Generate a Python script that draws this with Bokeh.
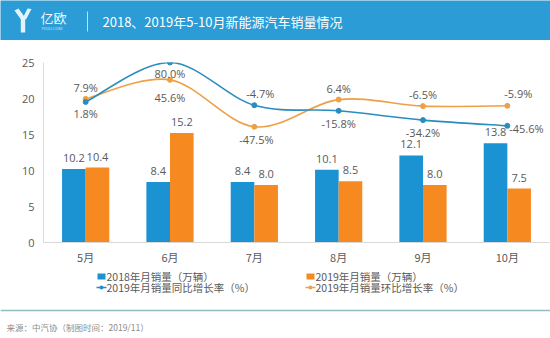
from bokeh.plotting import figure
from bokeh.layouts import column
from bokeh.models import Range1d, FixedTicker, ColumnDataSource
from bokeh.core.properties import value
from bokeh.embed import file_html
from bokeh.resources import INLINE

# ---------------- data ----------------
months = ["5月", "6月", "7月", "8月", "9月", "10月"]
sales_2018 = [10.2, 8.4, 8.4, 10.1, 12.1, 13.8]      # 万辆
sales_2019 = [10.4, 15.2, 8.0, 8.5, 8.0, 7.5]        # 万辆
yoy_2019 = [1.8, 80.0, -4.7, -15.8, -34.2, -45.6]    # 同比 %
mom_2019 = [7.9, 45.6, -47.5, 6.4, -6.5, -5.9]       # 环比 %
y_ticks = [0, 5, 10, 15, 20, 25]

title_text = "2018、2019年5-10月新能源汽车销量情况"
legend_labels = ["2018年月销量（万辆）", "2019年月销量（万辆）",
                 "2019年月销量同比增长率（%）", "2019年月销量环比增长率（%）"]
source_text = "来源：中汽协（制图时间：2019/11）"

# ---------------- styles ----------------
BLUE = "#1b93d2"
ORANGE = "#f6891f"
LBLUE = "#2a8dbf"
LORANGE = "#eea047"
HEAD = "#2b9cd6"
GRAY = "#595959"
CJK = value("Noto Sans CJK SC")
NUM = value("Open Sans")

# label offsets (screen px) for the percentage labels
yoy_dx = [0, 0, 6, 0, 0, 19]
yoy_dy = [12, 11, -12, 13, 12, 3]
mom_dx = [0, 0, 2, 0, 0, 11]
mom_dy = [-11, 18, 13, -11, -12, -12]

n = len(months)
xc = [i + 0.5 for i in range(n)]
bw = 0.28

HEAD_H = 40
TOP_B = 22
FRAME_H = 180
BOT_B = 26
MAIN_H = TOP_B + FRAME_H + BOT_B
FOOT_TOP = HEAD_H + MAIN_H
FOOT_H = 338 - FOOT_TOP

# ---------------- header ----------------
head = figure(width=550, height=HEAD_H, x_range=Range1d(0, 550), y_range=Range1d(HEAD_H, 0),
              output_backend="svg", toolbar_location=None, min_border=0,
              min_border_left=0, min_border_right=0, min_border_top=0, min_border_bottom=0,
              x_axis_location=None, y_axis_location=None, frame_align=False,
              background_fill_color=HEAD, border_fill_color=HEAD, outline_line_color=None)
head.xgrid.visible = False
head.ygrid.visible = False
logo_c = "#e3f3fb"
head.patches(xs=[[14, 18, 24.5, 20.5], [27, 31, 25.5, 22.5], [20.3, 24.7, 24.7, 20.3]],
             ys=[[10, 8, 17, 19], [8, 8.5, 19, 17], [17, 17, 32, 32]],
             fill_color=logo_c, line_color=None)
head.text(x=[40], y=[17], text=["亿欧"], text_color="#eef8fd", text_font=CJK,
          text_font_size="13px", text_baseline="middle", text_align="left")
head.text(x=[41], y=[28], text=["YIIOU.COM"], text_color="#cfe9f7", text_font=NUM,
          text_font_size="4px", text_baseline="middle", text_align="left")
head.segment(x0=[87], y0=[11], x1=[87], y1=[31], line_color="#bfe2f4", line_width=1)
head.text(x=[102], y=[21], text=[title_text], text_color="white", text_font=CJK,
          text_font_size="13px", text_baseline="middle", text_align="left")

# ---------------- main chart ----------------
p = figure(width=550, height=MAIN_H, x_range=Range1d(0, n), y_range=Range1d(0, 25),
           output_backend="svg", toolbar_location=None, frame_align=False,
           min_border_left=43, min_border_right=1, min_border_top=TOP_B, min_border_bottom=BOT_B,
           outline_line_color=None)
p.extra_y_ranges = {"pct": Range1d(-277, 80)}
p.xgrid.visible = False
p.ygrid.visible = False

src = ColumnDataSource(dict(
    x18=[x - bw / 2 for x in xc], x19=[x + bw / 2 for x in xc],
    xc=xc, s18=sales_2018, s19=sales_2019,
    l18=[f"{v:.1f}" for v in sales_2018], l19=[f"{v:.1f}" for v in sales_2019],
    yoy=yoy_2019, mom=mom_2019,
    lyoy=[f"{v:.1f}%" for v in yoy_2019], lmom=[f"{v:.1f}%" for v in mom_2019],
    yoy_dx=yoy_dx, yoy_dy=yoy_dy, mom_dx=mom_dx, mom_dy=mom_dy,
))

p.vbar(x="x18", top="s18", width=bw, bottom=0, source=src, fill_color=BLUE, line_color=None)
p.vbar(x="x19", top="s19", width=bw, bottom=0, source=src, fill_color=ORANGE, line_color=None)
p.text(x="x18", y="s18", text="l18", source=src, text_color=GRAY, text_font=NUM,
       text_font_size="11px", text_align="center", text_baseline="middle", y_offset=-11)
p.text(x="x19", y="s19", text="l19", source=src, text_color=GRAY, text_font=NUM,
       text_font_size="11px", text_align="center", text_baseline="middle", y_offset=-11)


def smooth_segments(xs, ys):
    """Catmull-Rom control points for drawing a smooth line through the data points."""
    x0, y0, x1, y1, cx0, cy0, cx1, cy1 = [], [], [], [], [], [], [], []
    m = len(xs)
    for i in range(m - 1):
        a = max(i - 1, 0)
        d = min(i + 2, m - 1)
        x0.append(xs[i]); y0.append(ys[i]); x1.append(xs[i + 1]); y1.append(ys[i + 1])
        cx0.append(xs[i] + (xs[i + 1] - xs[a]) / 6.0)
        cy0.append(ys[i] + (ys[i + 1] - ys[a]) / 6.0)
        cx1.append(xs[i + 1] - (xs[d] - xs[i]) / 6.0)
        cy1.append(ys[i + 1] - (ys[d] - ys[i]) / 6.0)
    return dict(x0=x0, y0=y0, x1=x1, y1=y1, cx0=cx0, cy0=cy0, cx1=cx1, cy1=cy1)


for series, col in ((mom_2019, LORANGE), (yoy_2019, LBLUE)):
    seg = ColumnDataSource(smooth_segments(xc, series))
    p.bezier(x0="x0", y0="y0", x1="x1", y1="y1", cx0="cx0", cy0="cy0", cx1="cx1", cy1="cy1",
             source=seg, line_color=col, line_width=1.6, y_range_name="pct")

p.scatter(x="xc", y="mom", source=src, size=5, fill_color=LORANGE, line_color=LORANGE,
          y_range_name="pct")
p.scatter(x="xc", y="yoy", source=src, size=5, fill_color=LBLUE, line_color=LBLUE,
          y_range_name="pct")

p.text(x="xc", y="yoy", text="lyoy", source=src, y_range_name="pct", text_color=GRAY,
       text_font=NUM, text_font_size="11px", text_align="center", text_baseline="middle",
       x_offset="yoy_dx", y_offset="yoy_dy")
p.text(x="xc", y="mom", text="lmom", source=src, y_range_name="pct", text_color=GRAY,
       text_font=NUM, text_font_size="11px", text_align="center", text_baseline="middle",
       x_offset="mom_dx", y_offset="mom_dy")

p.xaxis.ticker = FixedTicker(ticks=xc)
p.xaxis.major_label_overrides = {x: m for x, m in zip(xc, months)}
p.yaxis.ticker = FixedTicker(ticks=y_ticks)
for ax in (p.xaxis, p.yaxis):
    ax.axis_line_color = "#d9d9d9"
    ax.axis_line_width = 1
    ax.major_tick_line_color = None
    ax.minor_tick_line_color = None
    ax.major_tick_out = 0
    ax.major_tick_in = 0
    ax.minor_tick_out = 0
    ax.minor_tick_in = 0
    ax.major_label_text_color = GRAY
    ax.major_label_text_font_size = "11px"
p.xaxis.major_label_standoff = 6
p.yaxis.major_label_standoff = 9
p.xaxis.major_label_text_font = "Noto Sans CJK SC"
p.yaxis.major_label_text_font = "Open Sans"

# ---------------- legend + footer ----------------
foot = figure(width=550, height=FOOT_H, x_range=Range1d(0, 550), y_range=Range1d(338, FOOT_TOP),
              output_backend="svg", toolbar_location=None, min_border=0,
              min_border_left=0, min_border_right=0, min_border_top=0, min_border_bottom=0,
              x_axis_location=None, y_axis_location=None, frame_align=False,
              outline_line_color=None)
foot.xgrid.visible = False
foot.ygrid.visible = False
foot.rect(x=[101, 310], y=[276, 276], width=8, height=6, fill_color=[BLUE, ORANGE], line_color=None)
foot.segment(x0=[96, 305], y0=[287, 287], x1=[106, 315], y1=[287, 287],
             line_color=[LBLUE, LORANGE], line_width=1.5)
foot.scatter(x=[101, 310], y=[287, 287], size=4, fill_color=[LBLUE, LORANGE], line_color=None)
foot.text(x=[106, 315, 106, 315], y=[276, 276, 287, 287], text=legend_labels,
          text_color=GRAY, text_font=CJK, text_font_size="10.5px",
          text_align="left", text_baseline="middle")
foot.segment(x0=[0], y0=[310], x1=[550], y1=[310], line_color="#93bcc4", line_width=1.5)
foot.text(x=[6], y=[326], text=[source_text], text_color="#8c8c8c", text_font=CJK,
          text_font_size="8.5px", text_align="left", text_baseline="middle")

layout = column(head, p, foot, spacing=0)
open("out.html", "w").write(file_html(layout, INLINE))
